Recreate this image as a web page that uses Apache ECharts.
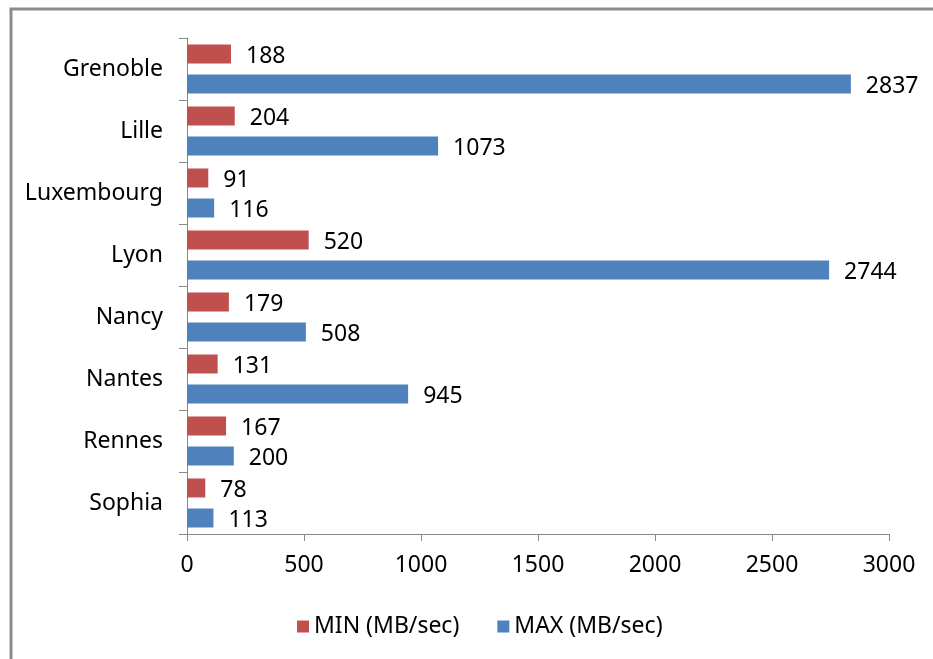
<!DOCTYPE html>
<html>
<head>
<meta charset="utf-8">
<script src="https://cdn.jsdelivr.net/npm/echarts@6/dist/echarts.min.js"></script>
<style>
  html, body { margin: 0; padding: 0; background: #fff; }
  #main { width: 933px; height: 659px; }
</style>
</head>
<body>
<div id="main"></div>
<script>
// data
var cities = ['Grenoble', 'Lille', 'Luxembourg', 'Lyon', 'Nancy', 'Nantes', 'Rennes', 'Sophia'];
var minVals = [188, 204, 91, 520, 179, 131, 167, 78];
var maxVals = [2837, 1073, 116, 2744, 508, 945, 200, 113];
var xTicks = [0, 500, 1000, 1500, 2000, 2500, 3000];

var myChart = echarts.init(document.getElementById('main'));
var font = '"Noto Sans", sans-serif';

var labelStyle = {
    show: true,
    position: 'right',
    distance: 15,
    offset: [0, 2],
    color: '#000',
    fontSize: 23,
    fontFamily: font
};

option = {
    animation: false,
    backgroundColor: '#fff',
    graphic: [{
        type: 'rect',
        shape: { x: 11, y: 9, width: 1000, height: 800 },
        style: { fill: 'none', stroke: '#8c8c8c', lineWidth: 3 }
    }],
    legend: {
        left: 292,
        top: 610,
        itemWidth: 12,
        itemHeight: 12,
        itemGap: 38,
        icon: 'rect',
        textStyle: { fontSize: 23, color: '#000', fontFamily: font },
        data: ['MIN (MB/sec)', 'MAX (MB/sec)']
    },
    grid: { left: 187, right: 44, top: 38, bottom: 125 },
    xAxis: {
        type: 'value',
        min: xTicks[0],
        max: xTicks[xTicks.length - 1],
        interval: 500,
        splitLine: { show: false },
        axisLine: { show: true, lineStyle: { color: '#888', width: 1 } },
        axisTick: { show: true, length: 7, lineStyle: { color: '#888' } },
        axisLabel: {
            margin: 20, fontSize: 23, color: '#000', fontFamily: font,
            formatter: function (v) { return String(v); }
        }
    },
    yAxis: {
        type: 'category',
        inverse: true,
        data: cities,
        axisLine: { show: true, lineStyle: { color: '#888', width: 1 } },
        axisTick: { show: true, length: 8, lineStyle: { color: '#888' } },
        axisLabel: { margin: 24, fontSize: 23, color: '#000', fontFamily: font }
    },
    series: [
        {
            name: 'MIN (MB/sec)',
            type: 'bar',
            barWidth: 19,
            barGap: '58%',
            itemStyle: { color: '#c0504d' },
            label: labelStyle,
            data: minVals
        },
        {
            name: 'MAX (MB/sec)',
            type: 'bar',
            barWidth: 19,
            barGap: '58%',
            itemStyle: { color: '#4f81bd' },
            label: labelStyle,
            data: maxVals
        }
    ]
};

myChart.setOption(option);
</script>
</body>
</html>
